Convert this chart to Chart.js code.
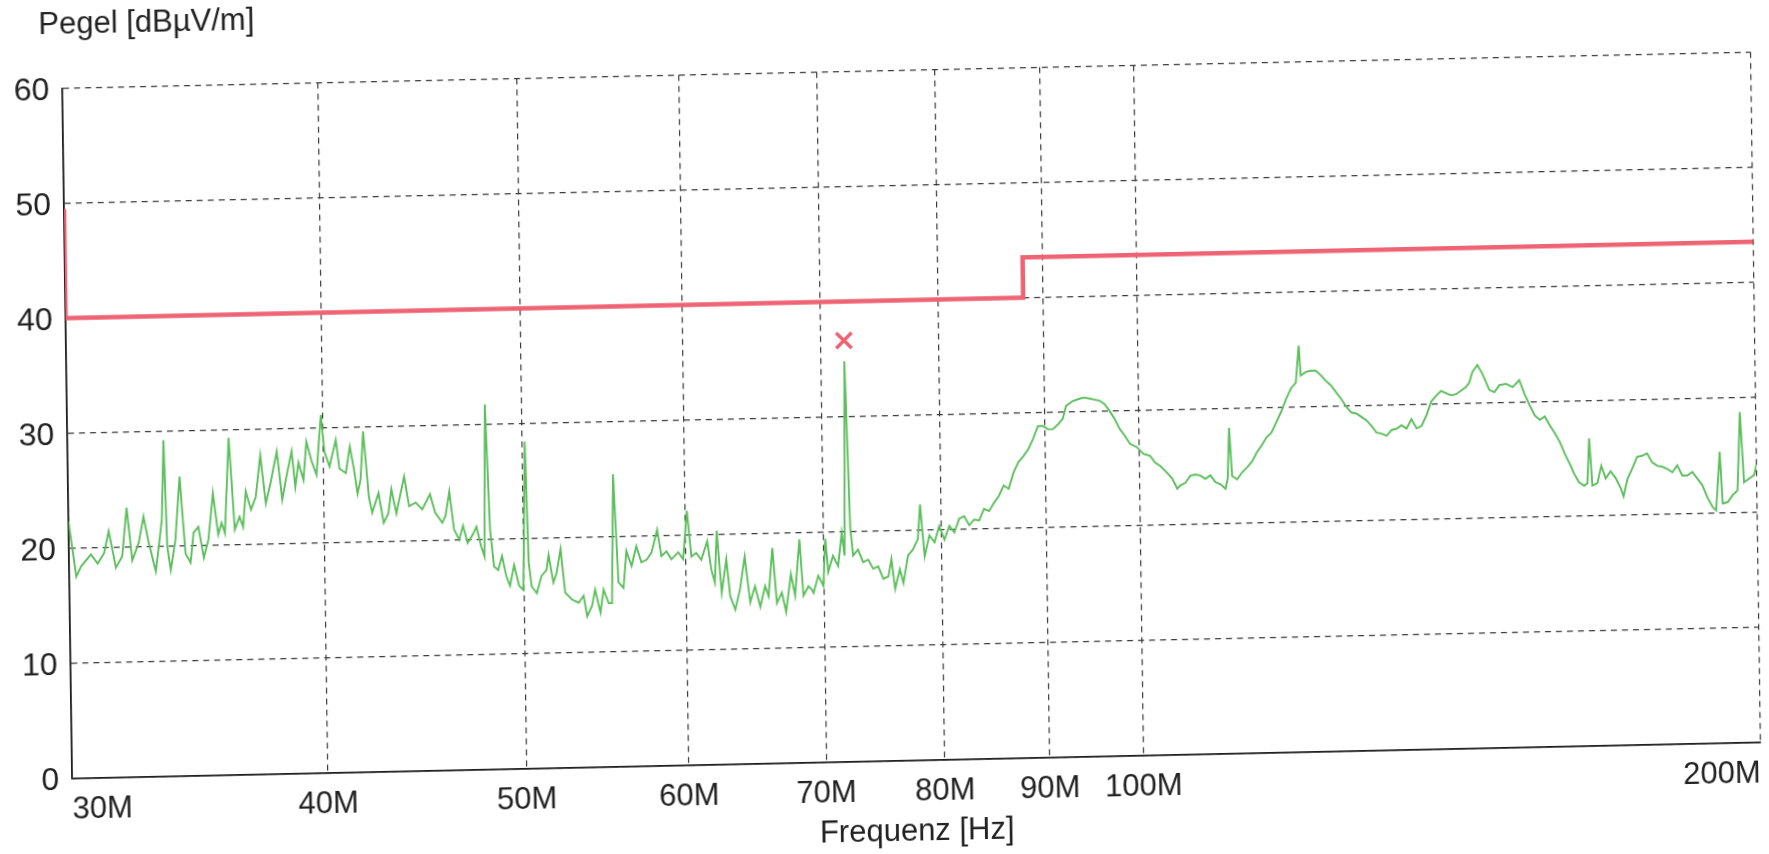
<!DOCTYPE html>
<html lang="de">
<head>
    <meta charset="UTF-8">
    <title>Pegel</title>
    <script src="https://cdn.jsdelivr.net/npm/chart.js@4.4.0/dist/chart.umd.min.js"></script>
    <style>
        html, body { margin: 0; padding: 0; background: #fff; overflow: hidden; }
        /* the scan is slightly skewed, so the whole sheet is too */
        #blatt { position: absolute; left: 0; top: 0; width: 1769px; height: 900px;
                 transform-origin: 0 0; transform: matrix(1, -0.0214, 0.0143, 1, 0, 0); }
    </style>
</head>
<body>
<div id="blatt"><canvas id="graph1" width="1769" height="900"></canvas></div>
<script>
    // Messwerte (Frequenz in MHz, Pegel in dBuV/m)
    const messFreq = [
        30.0, 30.24, 30.41, 30.75, 30.98, 31.21, 31.38, 31.62, 31.85, 32.03, 32.21, 32.45, 32.64, 32.82, 33.07, 33.32,
        33.42, 33.51, 33.63, 33.82, 34.01, 34.2, 34.39, 34.52, 34.71, 34.91, 35.1, 35.3, 35.49, 35.63, 35.76, 35.96,
        36.16, 36.36, 36.5, 36.63, 36.84, 37.04, 37.25, 37.46, 37.67, 37.95, 38.16, 38.37, 38.59, 38.73, 38.88, 39.09,
        39.24, 39.46, 39.67, 39.9, 40.04, 40.26, 40.56, 40.71, 41.0, 41.2, 41.38, 41.53, 41.68, 41.83, 42.06, 42.21,
        42.52, 42.75, 42.98, 43.14, 43.37, 43.77, 44.0, 44.33, 44.65, 45.05, 45.3, 45.66, 45.83, 46.04, 46.26, 46.52,
        46.73, 46.96, 47.23, 47.44, 47.67, 47.85, 47.98, 48.17, 48.36, 48.58, 48.8, 49.03, 49.22, 49.46, 49.72, 49.96,
        50.15, 50.28, 50.43, 50.72, 51.0, 51.29, 51.42, 51.68, 51.87, 52.12, 52.36, 52.75, 53.15, 53.45, 53.65, 53.95,
        54.15, 54.46, 54.67, 54.97, 55.18, 55.35, 55.6, 55.91, 56.12, 56.44, 56.75, 57.07, 57.4, 57.72, 58.11, 58.37,
        58.7, 59.03, 59.48, 59.81, 60.1, 60.37, 60.7, 61.04, 61.46, 61.73, 61.96, 62.13, 62.43, 62.78, 63.02, 63.37,
        63.73, 64.09, 64.45, 64.81, 65.18, 65.55, 65.8, 66.12, 66.41, 66.79, 67.09, 67.49, 67.79, 68.17, 68.43, 68.82,
        69.08, 69.21, 69.6, 69.99, 70.18, 70.39, 70.78, 71.18, 71.5, 71.71, 71.91, 72.2, 72.4, 72.8, 73.21, 73.63,
        74.04, 74.46, 74.88, 75.3, 75.58, 75.86, 76.29, 76.58, 77.01, 77.44, 77.88, 78.11, 78.46, 78.9, 79.35, 79.79,
        80.24, 80.7, 81.15, 81.61, 82.07, 82.53, 83.0, 83.46, 83.93, 84.41, 84.88, 85.36, 85.84, 86.32, 86.81, 87.3,
        87.79, 88.29, 88.79, 89.29, 89.79, 90.3, 90.8, 91.32, 91.83, 92.18, 92.87, 93.57, 94.1, 94.63, 95.16, 95.7,
        96.24, 96.78, 97.33, 97.88, 98.43, 98.98, 99.73, 100.47, 101.23, 101.8, 102.38, 103.15, 103.73, 104.32, 104.7, 105.29,
        105.88, 106.48, 107.08, 107.69, 108.29, 108.9, 109.52, 110.14, 110.42, 110.67, 110.97, 111.59, 112.22, 112.85, 113.49, 114.13,
        114.77, 115.42, 116.07, 116.73, 117.38, 118.05, 118.71, 119.38, 119.83, 120.05, 120.73, 121.41, 122.1, 122.79, 123.48, 124.17,
        124.87, 125.58, 126.29, 127.0, 127.71, 128.43, 129.16, 129.89, 130.62, 131.35, 132.1, 132.84, 133.59, 134.34, 135.1, 135.86,
        136.63, 137.4, 138.17, 138.95, 139.73, 140.52, 141.31, 142.11, 142.91, 143.72, 144.53, 145.07, 145.6, 146.43, 147.25, 148.36,
        149.2, 150.04, 151.17, 152.3, 153.45, 154.31, 155.18, 156.06, 156.94, 157.82, 158.71, 159.6, 160.5, 161.41, 162.32, 162.92,
        163.84, 164.77, 165.39, 165.82, 166.32, 167.26, 168.02, 168.83, 169.78, 170.74, 171.7, 172.22, 173.0, 173.97, 174.95, 175.94,
        176.93, 177.92, 178.93, 179.93, 180.95, 181.97, 182.99, 184.02, 185.06, 186.1, 187.15, 188.21, 189.27, 190.33, 191.05, 191.97,
        192.49, 193.57, 194.66, 195.76, 196.49, 197.22, 198.33, 199.45, 200.0
    ];
    const messPegel = [
        22.3, 17.5, 18.4, 19.4, 18.6, 19.5, 21.4, 18.2, 19.2, 23.4, 18.8, 20.3, 22.6, 20.3, 17.8, 22.3,
        29.2, 19.9, 17.9, 20.5, 26.0, 19.3, 18.5, 21.1, 21.6, 18.9, 20.5, 24.5, 20.9, 21.9, 21.0, 29.3,
        21.3, 22.4, 21.5, 24.6, 23.0, 24.1, 27.7, 23.5, 25.3, 28.0, 23.8, 26.0, 28.0, 24.9, 27.0, 25.5,
        28.8, 27.1, 25.9, 31.1, 27.9, 26.6, 28.9, 26.4, 26.0, 28.3, 26.3, 24.2, 25.4, 29.6, 23.9, 22.5,
        24.2, 21.6, 22.4, 24.5, 22.4, 25.6, 23.0, 23.3, 22.7, 24.0, 22.4, 21.5, 22.1, 24.2, 20.9, 20.0,
        21.2, 19.7, 20.4, 21.1, 19.4, 18.5, 31.7, 20.8, 17.6, 17.3, 18.5, 16.7, 15.9, 17.7, 15.9, 15.5,
        28.4, 17.9, 15.8, 15.2, 16.7, 17.2, 18.5, 16.1, 16.9, 19.0, 15.2, 14.6, 14.3, 14.9, 13.1, 14.0,
        15.4, 13.4, 15.4, 14.2, 14.2, 25.4, 16.0, 15.5, 18.7, 17.4, 19.1, 17.7, 17.9, 18.5, 20.5, 18.2,
        18.6, 17.9, 18.5, 17.9, 22.1, 18.1, 18.4, 17.8, 19.4, 16.9, 15.8, 20.3, 14.9, 17.8, 14.6, 13.4,
        15.2, 18.0, 14.0, 15.4, 13.6, 15.4, 14.5, 18.7, 13.9, 14.8, 13.1, 16.4, 14.5, 19.4, 14.5, 15.3,
        15.0, 14.7, 16.2, 15.3, 19.4, 16.5, 17.9, 17.0, 19.9, 17.9, 34.8, 20.2, 17.9, 18.4, 17.3, 17.5,
        16.7, 16.9, 15.8, 16.0, 17.5, 14.9, 16.6, 15.4, 17.8, 18.3, 19.2, 22.2, 17.7, 19.5, 18.9, 20.3,
        19.1, 20.3, 19.7, 20.9, 21.1, 20.3, 20.8, 20.7, 21.7, 21.5, 22.2, 22.8, 23.7, 23.4, 24.8, 25.7,
        26.2, 26.8, 27.7, 28.8, 28.8, 28.5, 28.5, 28.9, 29.4, 30.5, 30.9, 31.1, 31.2, 31.1, 31.0, 30.9,
        30.6, 30.0, 29.3, 28.4, 27.8, 27.1, 26.8, 26.2, 26.0, 25.4, 25.1, 24.5, 24.0, 23.1, 23.4, 23.6,
        24.2, 24.3, 24.2, 23.9, 24.2, 23.6, 23.4, 23.0, 23.9, 28.3, 24.1, 23.8, 24.4, 24.8, 25.3, 26.1,
        26.7, 27.4, 27.8, 28.7, 29.6, 30.7, 31.6, 32.1, 35.3, 32.7, 33.0, 33.1, 33.1, 32.7, 32.2, 31.8,
        31.2, 30.6, 29.9, 29.4, 29.3, 29.0, 28.7, 28.2, 27.6, 27.5, 27.3, 27.8, 27.9, 28.2, 27.9, 28.7,
        27.9, 28.1, 29.0, 30.2, 30.7, 31.1, 30.9, 30.7, 30.8, 31.1, 31.4, 31.8, 32.7, 33.3, 32.5, 31.1,
        30.9, 31.5, 31.6, 31.3, 31.9, 30.7, 29.7, 28.8, 28.4, 28.7, 27.9, 27.2, 26.4, 25.3, 24.4, 23.7,
        22.9, 22.6, 22.8, 26.7, 22.6, 22.8, 24.3, 23.2, 23.8, 23.2, 22.3, 21.6, 23.1, 24.0, 25.0, 25.1,
        25.3, 24.5, 24.2, 24.1, 23.9, 23.6, 24.2, 23.3, 23.3, 23.6, 23.0, 22.4, 21.3, 20.5, 20.2, 25.3,
        20.8, 20.9, 21.5, 21.9, 28.7, 22.6, 22.9, 23.2, 24.1
    ];

    // Grenzwertlinie
    const grenzFreq = [30, 30, 88, 88, 200];
    const grenzPegel = [49.5, 40, 40, 43.5, 43.5];

    // Markierung (x)
    const markerFreq = [71.9];
    const markerPegel = [36.6];

    // Achsen
    const xTicks = [30, 40, 50, 60, 70, 80, 90, 100, 200];
    const xTickLabels = ["30M", "40M", "50M", "60M", "70M", "80M", "90M", "100M", "200M"];
    const yTicks = [0, 10, 20, 30, 40, 50, 60];

    function punkte(xs, ys) {
        var p = [];
        for (var i = 0; i < xs.length; i++) {
            p.push({x: xs[i], y: ys[i]});
        }
        return p;
    }

    const schrift = "'Liberation Sans', Arial, sans-serif";
    const textFarbe = "#222";

    const beschriftung = {
        id: "beschriftung",
        afterDraw(chart) {
            const ctx = chart.ctx;
            const a = chart.chartArea;
            const xs = chart.scales.x;
            const ys = chart.scales.y;
            ctx.save();
            ctx.fillStyle = textFarbe;
            ctx.textBaseline = "alphabetic";

            ctx.font = "32px " + schrift;
            ctx.textAlign = "right";
            for (var i = 0; i < yTicks.length; i++) {
                ctx.fillText(String(yTicks[i]), a.left - 13, ys.getPixelForValue(yTicks[i]) + 11.5);
            }

            ctx.font = "31px " + schrift;
            for (var j = 0; j < xTicks.length; j++) {
                var px = xs.getPixelForValue(xTicks[j]);
                if (j == 0) ctx.textAlign = "left";
                else if (j == xTicks.length - 1) ctx.textAlign = "right";
                else ctx.textAlign = "center";
                ctx.fillText(xTickLabels[j], px, a.bottom + 41);
            }

            ctx.textAlign = "center";
            ctx.fillText("Frequenz [Hz]", (a.left + a.right) / 2, a.bottom + 81);

            ctx.font = "31px " + schrift;
            ctx.textAlign = "left";
            ctx.fillText("Pegel [dBµV/m]", 38, 35);
            ctx.restore();
        }
    };

    const gitter = {color: "#3a3a3a", lineWidth: 1.2, drawTicks: false};
    const rand = {display: true, color: "#1e1e1e", width: 1.8, dash: [6, 5]};

    const graph1 = new Chart("graph1", {
        type: "line",
        data: {
            datasets: [{
                type: "scatter",
                data: punkte(markerFreq, markerPegel),
                pointStyle: "crossRot",
                pointRadius: 11,
                pointBorderWidth: 3.5,
                borderColor: "#ef6474",
                backgroundColor: "#ef6474",
                order: 0
            }, {
                data: punkte(grenzFreq, grenzPegel),
                borderColor: "#ef6474",
                borderWidth: 4.5,
                pointRadius: 0,
                tension: 0,
                fill: false,
                order: 1
            }, {
                data: punkte(messFreq, messPegel),
                borderColor: "#5cbf5c",
                borderWidth: 1.9,
                pointRadius: 0,
                tension: 0,
                fill: false,
                order: 2
            }]
        },
        options: {
            responsive: false,
            animation: false,
            devicePixelRatio: 1,
            layout: {padding: {left: 61, right: 19.5, top: 89.4, bottom: 120.6}},
            plugins: {legend: {display: false}, tooltip: {enabled: false}},
            scales: {
                x: {
                    type: "logarithmic",
                    min: 30,
                    max: 200,
                    afterBuildTicks: function (s) { s.ticks = xTicks.map(function (v) { return {value: v}; }); },
                    ticks: {display: false},
                    grid: gitter,
                    border: rand
                },
                y: {
                    type: "linear",
                    min: 0,
                    max: 60,
                    afterBuildTicks: function (s) { s.ticks = yTicks.map(function (v) { return {value: v}; }); },
                    ticks: {display: false},
                    grid: gitter,
                    border: rand
                }
            }
        },
        plugins: [beschriftung]
    });
</script>
</body>
</html>
